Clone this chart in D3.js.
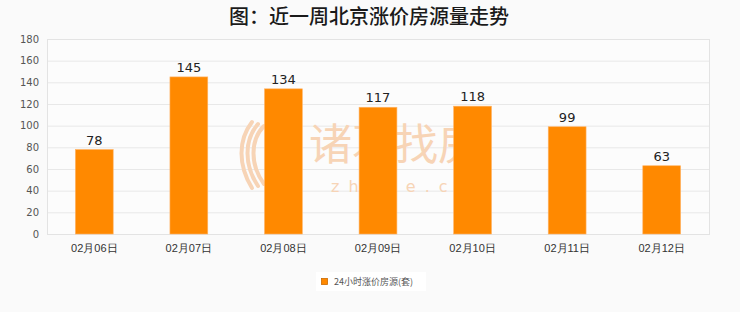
<!DOCTYPE html>
<html>
<head>
<meta charset="utf-8">
<script src="https://cdn.jsdelivr.net/npm/d3@7/dist/d3.min.js"></script>
<style>
  html, body { margin: 0; padding: 0; background: #fafafa; }
  svg { display: block; font-family: "Noto Sans CJK SC", "DejaVu Sans", sans-serif; }
</style>
</head>
<body>
<svg id="chart" width="740" height="312"></svg>
<script>
// Daily count of listings with a price increase, Beijing, past week
const categories = ["02月06日", "02月07日", "02月08日", "02月09日", "02月10日", "02月11日", "02月12日"];
const values = [78, 145, 134, 117, 118, 99, 63];
const yTicks = [0, 20, 40, 60, 80, 100, 120, 140, 160, 180];
const title = "图：近一周北京涨价房源量走势";
const seriesName = "24小时涨价房源(套)";

const svg = d3.select("#chart");
const plot = { left: 47, right: 709, top: 39, bottom: 234 };
const barColor = "#ff8900";

// title
svg.append("text")
  .attr("x", 369).attr("y", 24)
  .attr("text-anchor", "middle")
  .attr("font-size", 20).attr("font-weight", 500)
  .attr("fill", "#1a1a1a")
  .text(title);

const x = d3.scaleBand().domain(categories).range([plot.left, plot.right]).paddingInner(0.6).paddingOuter(0.3);
const y = d3.scaleLinear().domain([0, 180]).range([plot.bottom, plot.top]);

// plot background
svg.append("rect")
  .attr("x", plot.left).attr("y", plot.top)
  .attr("width", plot.right - plot.left).attr("height", plot.bottom - plot.top)
  .attr("fill", "#fcfcfc");

// grid lines
svg.append("g").selectAll("line").data(yTicks).join("line")
  .attr("x1", plot.left).attr("x2", plot.right)
  .attr("y1", d => y(d) + 0.5).attr("y2", d => y(d) + 0.5)
  .attr("stroke", "#e8e8e8").attr("stroke-width", 1);

// frame
svg.append("rect")
  .attr("x", plot.left + 0.5).attr("y", plot.top + 0.5)
  .attr("width", plot.right - plot.left).attr("height", plot.bottom - plot.top)
  .attr("fill", "none").attr("stroke", "#e3e3e3");

// watermark
const wmColor = "#f7d4b6";
const wm = svg.append("g").attr("fill", wmColor);
wm.append("text").attr("x", 309).attr("y", 160)
  .attr("font-size", 43).attr("font-weight", 400).text("诸葛找房");
wm.append("text").attr("x", 331).attr("y", 192)
  .attr("font-size", 16).attr("letter-spacing", 9).attr("font-family", "DejaVu Sans").text("zhuge.com");
// feather-like logo strokes
[0, 1, 2].forEach(i => {
  wm.append("path")
    .attr("d", `M${252 + i * 6},${122 + i * 2} C${238 + i * 6},${140} ${238 + i * 6},${165} ${252 + i * 6},${188 - i * 2}`)
    .attr("fill", "none").attr("stroke", wmColor).attr("stroke-width", 4).attr("stroke-linecap", "round");
});

// y axis
const yAxis = d3.axisLeft(y).tickValues(yTicks).tickSize(0).tickPadding(8);
const gy = svg.append("g").attr("transform", `translate(${plot.left},0)`).call(yAxis);
gy.select(".domain").remove();
gy.selectAll("text").attr("font-size", 10).attr("fill", "#555").attr("font-family", "DejaVu Sans, sans-serif");

// x axis
const xAxis = d3.axisBottom(x).tickSize(0).tickPadding(10);
const gx = svg.append("g").attr("transform", `translate(0,${plot.bottom})`).call(xAxis);
gx.select(".domain").remove();
gx.selectAll("text").attr("font-size", 11).attr("fill", "#333");

// bars
svg.append("g").selectAll("rect").data(values).join("rect")
  .attr("x", (d, i) => x(categories[i]))
  .attr("y", d => y(d))
  .attr("width", x.bandwidth())
  .attr("height", d => y(0) - y(d))
  .attr("fill", barColor)
  .attr("stroke", "#ffb366").attr("stroke-width", 0.6);

// value labels
svg.append("g").selectAll("text").data(values).join("text")
  .attr("x", (d, i) => x(categories[i]) + x.bandwidth() / 2)
  .attr("y", d => y(d) - 5)
  .attr("text-anchor", "middle")
  .attr("font-size", 13).attr("fill", "#222")
  .attr("font-family", "DejaVu Sans, sans-serif")
  .text(d => d);

// legend
const lg = svg.append("g");
lg.append("rect").attr("x", 316).attr("y", 272).attr("width", 110).attr("height", 19).attr("fill", "#ffffff");
lg.append("rect").attr("x", 321.5).attr("y", 278.5).attr("width", 6).attr("height", 6)
  .attr("fill", barColor).attr("stroke", "#cc6a00").attr("stroke-width", 0.8);
lg.append("text").attr("x", 334).attr("y", 285)
  .attr("font-size", 9).attr("fill", "#555").text(seriesName);
</script>
</body>
</html>
